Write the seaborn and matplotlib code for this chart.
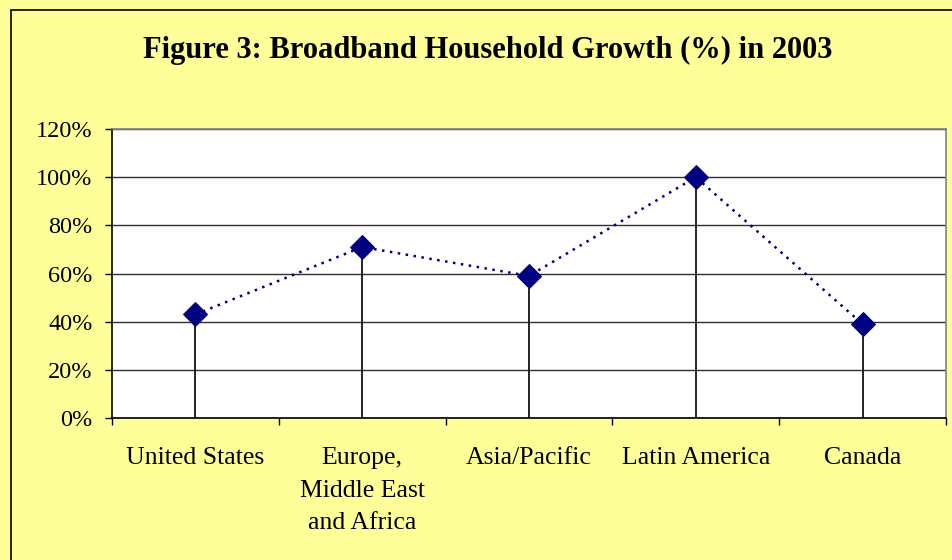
import numpy as np
import pandas as pd
import matplotlib
matplotlib.use("Agg")
import matplotlib.pyplot as plt
import matplotlib.patches as mpatches
from matplotlib.ticker import PercentFormatter, FixedLocator
import seaborn as sns

categories = ["United States", "Europe,\nMiddle East\nand Africa", "Asia/Pacific",
              "Latin America", "Canada"]
growth = [43, 71, 59, 100, 39]
y_ticks = [0, 20, 40, 60, 80, 100, 120]
title = "Figure 3: Broadband Household Growth (%) in 2003"

sns.set_theme(style="white")
plt.rcParams["font.family"] = ["Liberation Serif", "DejaVu Serif"]

BG = "#FFFF99"
NAVY = "#000080"

fig = plt.figure(figsize=(9.53, 5.60), dpi=100, facecolor=BG)
ax = fig.add_axes([112 / 953, 1 - 418 / 560, (946 - 112) / 953, (418 - 129) / 560])
ax.set_facecolor("white")

df = pd.DataFrame({"pos": np.arange(len(categories)), "growth": growth})

# drop lines
ax.vlines(df["pos"], 0, df["growth"], color="black", lw=1.2, zorder=2)

sns.lineplot(data=df, x="pos", y="growth", ax=ax, color=NAVY, lw=1.8,
             linestyle=(0, (1, 2.2)), marker="D", markersize=12.5,
             markeredgecolor=NAVY, markerfacecolor=NAVY, zorder=3)

ax.set_xlim(-0.5, len(categories) - 0.5)
ax.set_ylim(0, 120)
ax.yaxis.set_major_locator(FixedLocator(y_ticks))
ax.yaxis.set_major_formatter(PercentFormatter(xmax=100, decimals=0))
ax.grid(axis="y", color="#303030", lw=1.0, zorder=1)
ax.set_axisbelow(True)

ax.set_xticks(df["pos"])
ax.set_xticklabels(categories, linespacing=1.62)
ax.set_xticks(np.arange(len(categories) + 1) - 0.5, minor=True)
ax.tick_params(axis="x", which="major", length=0, pad=21, labelsize=18.5, colors="black")
ax.tick_params(axis="x", which="minor", length=5, width=1, direction="out",
               color="black", bottom=True)
ax.tick_params(axis="y", length=5, width=1, direction="out", left=True,
               pad=9, labelsize=17.5, colors="black")
ax.set_xlabel("")
ax.set_ylabel("")

for s in ["left", "bottom"]:
    ax.spines[s].set_color("black")
    ax.spines[s].set_linewidth(1.2)
for s in ["top", "right"]:
    ax.spines[s].set_color("#808080")
    ax.spines[s].set_linewidth(1.2)

fig.text(488 / 953, 1 - 50 / 560, title, ha="center", va="center",
         fontsize=22, fontweight="bold", color="black")

border = mpatches.Rectangle((10.5 / 953, -0.05), 1.0, 1 - 9.5 / 560 + 0.05,
                            transform=fig.transFigure, fill=False,
                            edgecolor="black", lw=1.2, zorder=0)
fig.patches.append(border)

fig.savefig("out.png", dpi=100, facecolor=BG)
